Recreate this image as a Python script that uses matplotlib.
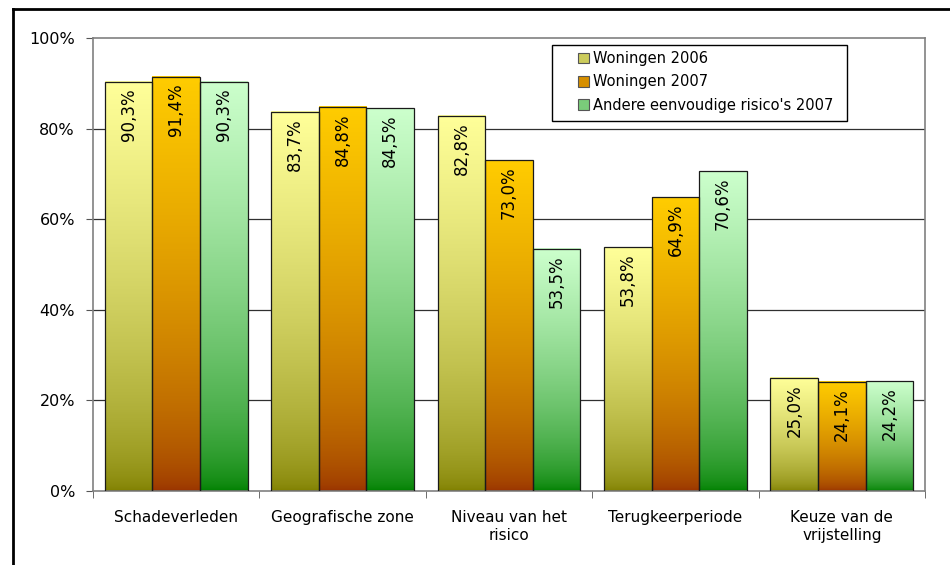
import numpy as np
import matplotlib.pyplot as plt
from matplotlib.lines import Line2D
from matplotlib.patches import Patch, Rectangle
from matplotlib.colors import LinearSegmentedColormap

categories = ["Schadeverleden", "Geografische zone", "Niveau van het\nrisico",
              "Terugkeerperiode", "Keuze van de\nvrijstelling"]
series_names = ["Woningen 2006", "Woningen 2007", "Andere eenvoudige risico's 2007"]
woningen_2006 = [90.3, 83.7, 82.8, 53.8, 25.0]
woningen_2007 = [91.4, 84.8, 73.0, 64.9, 24.1]
andere_2007 = [90.3, 84.5, 53.5, 70.6, 24.2]
y_ticks = [0, 20, 40, 60, 80, 100]

# (top colour, bottom colour) for each series
gradients = [("#FFFF99", "#808000"), ("#FFCC00", "#993300"), ("#CCFFCC", "#008000")]

W, H = 950, 565
fig = plt.figure(figsize=(W / 100, H / 100), dpi=100, facecolor="white")
ax = fig.add_axes([93 / W, 1 - 491 / H, 832 / W, 453 / H])


def px(xp, yp):
    # pixel position -> figure fraction
    return xp / W, 1 - yp / H


# outer chart frame
fig.add_artist(Line2D([13 / W, 13 / W], [0, px(0, 9)[1]], transform=fig.transFigure,
                      color="black", lw=2))
fig.add_artist(Line2D([13 / W, 1], [px(0, 9)[1]] * 2, transform=fig.transFigure,
                      color="black", lw=2))

n_cat = len(categories)
bw = 1 / 3.5
x = np.arange(n_cat)
# light colour holds longer, darkening towards the base
grad = (np.linspace(1, 0, 256) ** 0.6).reshape(-1, 1)

for k, vals in enumerate([woningen_2006, woningen_2007, andere_2007]):
    top, bottom = gradients[k]
    cmap = LinearSegmentedColormap.from_list("g%d" % k, [bottom, top])
    xs = x - 1.5 * bw + k * bw
    for xi, v in zip(xs, vals):
        ax.imshow(grad, cmap=cmap, aspect="auto", extent=(xi, xi + bw, 0, v),
                  vmin=0, vmax=1, zorder=2, interpolation="bicubic")
        ax.bar(xi, v, width=bw, align="edge", facecolor="none", edgecolor="#1a1a1a",
               lw=0.9, zorder=3)
        ax.annotate(f"{v:.1f}%".replace(".", ","), (xi + bw / 2, v), xytext=(0, -4.5),
                    textcoords="offset points", rotation=90, ha="center", va="top",
                    fontsize=12, color="black", zorder=4)

ax.set_xlim(-0.5, n_cat - 0.5)
ax.set_ylim(0, 100)
ax.set_yticks(y_ticks)
ax.set_yticklabels([f"{t}%" for t in y_ticks], fontsize=11.5)
ax.set_xticks(x)
ax.set_xticklabels(categories, fontsize=11)
ax.tick_params(axis="x", length=0, pad=14)
ax.set_xticks(np.arange(n_cat + 1) - 0.5, minor=True)
ax.tick_params(axis="x", which="minor", length=5, color="#555555", direction="out")
ax.tick_params(axis="y", length=5, color="#555555", direction="out", pad=8)

for t in y_ticks[1:-1]:
    ax.axhline(t, color="#303030", lw=0.9, zorder=1)
for s in ax.spines.values():
    s.set_color("#808080")
    s.set_linewidth(1.2)

# legend box
x0, y0 = px(552, 121)
x1, y1 = px(847, 45)
fig.add_artist(Rectangle((x0, y0), x1 - x0, y1 - y0, transform=fig.transFigure,
                         facecolor="white", edgecolor="black", lw=1, zorder=5))
handles = [Patch(facecolor=LinearSegmentedColormap.from_list("h", [b, t])(0.6),
                 edgecolor="#555555", lw=0.8) for t, b in gradients]
leg = fig.legend(handles, series_names, loc="upper left",
                 bbox_to_anchor=px(578, 51), fontsize=10.5, frameon=False,
                 handlelength=0.75, handleheight=0.75, handletextpad=0.3,
                 borderpad=0, labelspacing=0.58, borderaxespad=0)
leg.set_zorder(6)

fig.savefig("out.png", dpi=100, facecolor="white")
